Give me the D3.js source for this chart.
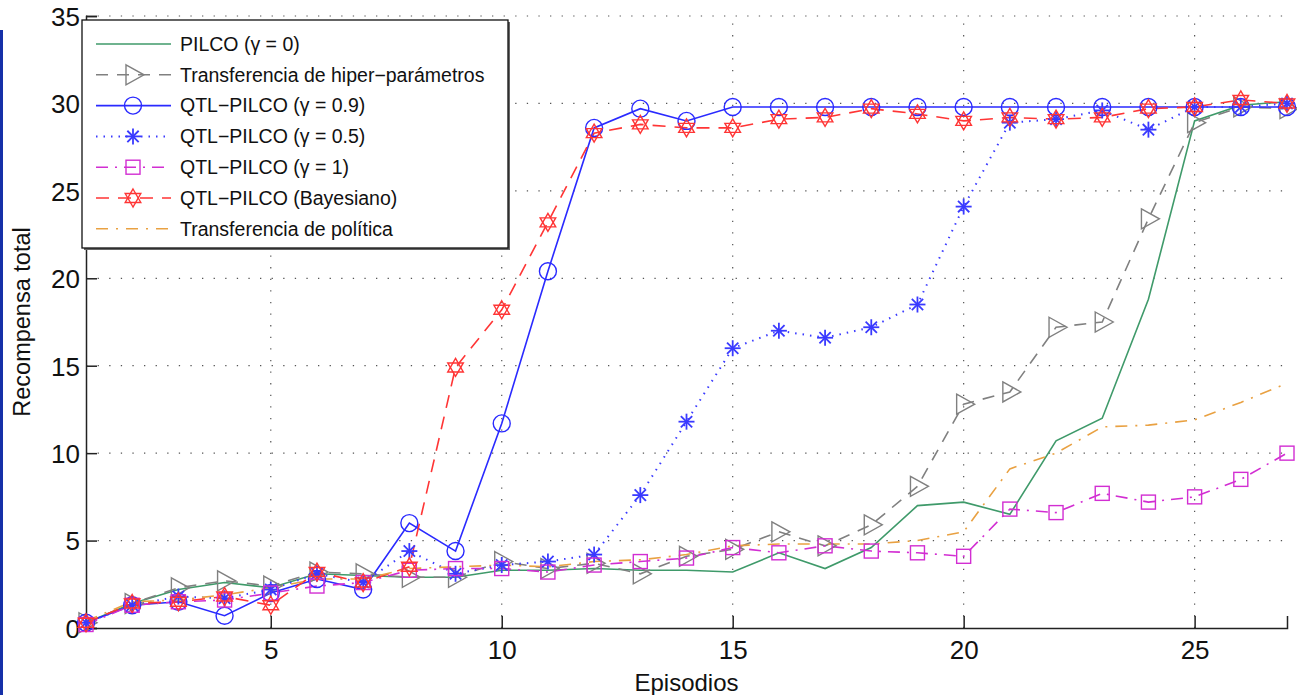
<!DOCTYPE html>
<html>
<head>
<meta charset="utf-8">
<script src="https://cdn.jsdelivr.net/npm/d3@7"></script>
<style>
  body { margin: 0; background: #fff; }
  text { font-family: "Liberation Sans", Arial, sans-serif; fill: #111; }
</style>
</head>
<body>
<div id="chart"></div>
<script>
// episodes 1..27
const episodes = d3.range(1, 28);

const pilco      = [0.3,1.4,2.2,2.6,2.3,3.1,3.0,2.9,2.9,3.3,3.3,3.4,3.3,3.3,3.2,4.3,3.4,4.6,7.0,7.2,6.5,10.7,12.0,18.8,29.0,29.9,30.1];
const hyperTrans = [0.3,1.4,2.3,2.7,2.4,3.2,3.1,2.9,2.9,3.8,3.4,3.7,3.1,4.1,4.5,5.5,4.7,5.9,8.1,12.8,13.5,17.2,17.5,23.4,28.9,29.8,29.7];
const qtl09      = [0.3,1.3,1.5,0.7,2.0,2.8,2.2,6.0,4.4,11.7,20.4,28.6,29.7,29.0,29.8,29.8,29.8,29.8,29.8,29.8,29.8,29.8,29.8,29.8,29.8,29.8,29.8];
const qtl05      = [0.3,1.3,1.8,1.7,2.2,3.1,2.6,4.4,3.1,3.6,3.8,4.2,7.6,11.8,16.0,17.0,16.6,17.2,18.5,24.1,28.9,29.1,29.6,28.5,29.8,29.8,30.0];
const qtl1       = [0.2,1.3,1.5,1.6,2.0,2.4,2.6,3.3,3.4,3.4,3.2,3.6,3.8,4.0,4.6,4.3,4.7,4.4,4.3,4.1,6.8,6.6,7.7,7.2,7.5,8.5,10.0];
const qtlBayes   = [0.3,1.4,1.5,1.8,1.3,3.2,2.6,3.5,14.9,18.2,23.2,28.3,28.8,28.6,28.6,29.1,29.2,29.7,29.4,29.0,29.2,29.1,29.2,29.7,29.8,30.2,30.0];
const policyTrans= [0.4,1.5,1.6,1.9,2.3,2.8,2.8,3.4,3.5,3.6,3.5,3.8,3.9,4.2,4.7,4.8,4.8,4.8,5.0,5.5,9.1,10.0,11.5,11.6,11.9,12.9,14.0];

const xTicks = [5, 10, 15, 20, 25];
const yTicks = [0, 5, 10, 15, 20, 25, 30, 35];

const seriesNames = [
  "PILCO (\u03b3 = 0)",
  "Transferencia de hiper\u2212par\u00e1metros",
  "QTL\u2212PILCO (\u03b3 = 0.9)",
  "QTL\u2212PILCO (\u03b3 = 0.5)",
  "QTL\u2212PILCO (\u03b3 = 1)",
  "QTL\u2212PILCO (Bayesiano)",
  "Transferencia de pol\u00edtica"
];
const seriesValues = [pilco, hyperTrans, qtl09, qtl05, qtl1, qtlBayes, policyTrans];

const styles = [
  {color: "#3f9a6a", dash: null,          marker: null},
  {color: "#808080", dash: "12,9",        marker: "tri"},
  {color: "#2a2aff", dash: null,          marker: "circle"},
  {color: "#3a3aff", dash: "1.5,6",       marker: "star"},
  {color: "#d22ed2", dash: "12,7,2,7",    marker: "square"},
  {color: "#ff3535", dash: "13,9",        marker: "hexagram"},
  {color: "#e9a142", dash: "12,8,2,8",    marker: null}
];

const W = 1297, H = 695;
const margin = {top: 16, right: 10, bottom: 67, left: 86};

const svg = d3.select("#chart").append("svg")
  .attr("width", W).attr("height", H);

// screenshot edge line on the left
svg.append("rect").attr("x", 0).attr("y", 30).attr("width", 3).attr("height", H - 30)
  .attr("fill", "#1530a8");

const x = d3.scaleLinear().domain([1, 27]).range([margin.left, W - margin.right]);
const y = d3.scaleLinear().domain([0, 35]).range([H - margin.bottom, margin.top]);

// grid
const grid = svg.append("g").attr("stroke", "#555").attr("stroke-width", 1.2)
  .attr("stroke-dasharray", "1.3,10.3");
grid.selectAll("line.gx").data(xTicks).enter().append("line")
  .attr("x1", d => x(d)).attr("x2", d => x(d))
  .attr("y1", y(0)).attr("y2", y(35));
grid.selectAll("line.gy").data(yTicks.filter(d => d > 0)).enter().append("line")
  .attr("x1", x(1)).attr("x2", x(27))
  .attr("y1", d => y(d)).attr("y2", d => y(d));

// axes
const xAxis = svg.append("g").attr("transform", `translate(0,${y(0)})`)
  .call(d3.axisBottom(x).tickValues(xTicks).tickSize(-12).tickPadding(13).tickFormat(d3.format("d")));
const yAxis = svg.append("g").attr("transform", `translate(${x(1)},0)`)
  .call(d3.axisLeft(y).tickValues(yTicks).tickSize(-11).tickPadding(6).tickFormat(d3.format("d")));
[xAxis, yAxis].forEach(a => {
  a.select(".domain").attr("stroke", "#222").attr("stroke-width", 1.5);
  a.selectAll(".tick line").attr("stroke", "#222").attr("stroke-width", 1.5);
  a.selectAll("text").style("font-size", "26px").attr("fill", "#111");
});
yAxis.selectAll("text").attr("dy", "0.36em");

svg.append("text").attr("x", x(14)).attr("y", 691).attr("text-anchor", "middle")
  .style("font-size", "24px").text("Episodios");
svg.append("text").attr("transform", `translate(30,${y(17.5)}) rotate(-90)`)
  .attr("text-anchor", "middle").style("font-size", "23.5px").text("Recompensa total");

// marker shapes
function drawMarker(g, type, color, cx, cy) {
  const m = g.append("g").attr("transform", `translate(${cx},${cy})`)
    .attr("fill", "none").attr("stroke", color).attr("stroke-width", 1.4);
  if (type === "circle") {
    m.append("circle").attr("r", 8.5);
  } else if (type === "square") {
    m.append("rect").attr("x", -7).attr("y", -7).attr("width", 14).attr("height", 14);
  } else if (type === "tri") {
    m.append("path").attr("d", "M-7,-10L11,0L-7,10Z");
  } else if (type === "star") {
    const r = 8;
    for (let k = 0; k < 4; k++) {
      const a = k * Math.PI / 4;
      m.append("line").attr("x1", -r * Math.cos(a)).attr("y1", -r * Math.sin(a))
        .attr("x2", r * Math.cos(a)).attr("y2", r * Math.sin(a));
    }
    m.attr("stroke-width", 1.8);
  } else if (type === "hexagram") {
    const r = 9;
    const t1 = d3.range(3).map(k => [r * Math.sin(k * 2 * Math.PI / 3), -r * Math.cos(k * 2 * Math.PI / 3)]);
    const t2 = d3.range(3).map(k => [r * Math.sin(k * 2 * Math.PI / 3 + Math.PI), -r * Math.cos(k * 2 * Math.PI / 3 + Math.PI)]);
    m.append("path").attr("d", "M" + t1.join("L") + "Z");
    m.append("path").attr("d", "M" + t2.join("L") + "Z");
  }
}

const line = d3.line().x((d, i) => x(episodes[i])).y(d => y(d));

const plot = svg.append("g");
seriesValues.forEach((vals, si) => {
  const st = styles[si];
  plot.append("path").datum(vals).attr("d", line)
    .attr("fill", "none").attr("stroke", st.color).attr("stroke-width", si === 3 ? 2 : 1.6)
    .attr("stroke-dasharray", st.dash);
});
seriesValues.forEach((vals, si) => {
  const st = styles[si];
  if (!st.marker) return;
  vals.forEach((v, i) => drawMarker(plot, st.marker, st.color, x(episodes[i]), y(v)));
});

// legend
const lg = svg.append("g");
lg.append("rect").attr("x", 84).attr("y", 22).attr("width", 426).attr("height", 228).attr("fill", "#666");
lg.append("rect").attr("x", 82).attr("y", 20).attr("width", 426).attr("height", 228)
  .attr("fill", "#fff").attr("stroke", "#111").attr("stroke-width", 1.3);
seriesNames.forEach((name, si) => {
  const st = styles[si];
  const ly = 44 + si * 30.8;
  lg.append("line").attr("x1", 96).attr("x2", 171).attr("y1", ly).attr("y2", ly)
    .attr("stroke", st.color).attr("stroke-width", si === 3 ? 2 : 1.6)
    .attr("stroke-dasharray", st.dash);
  if (st.marker) drawMarker(lg, st.marker, st.color, 133, ly);
  lg.append("text").attr("x", 180).attr("y", ly).attr("dy", "0.35em")
    .style("font-size", "19.5px").text(name);
});
</script>
</body>
</html>
